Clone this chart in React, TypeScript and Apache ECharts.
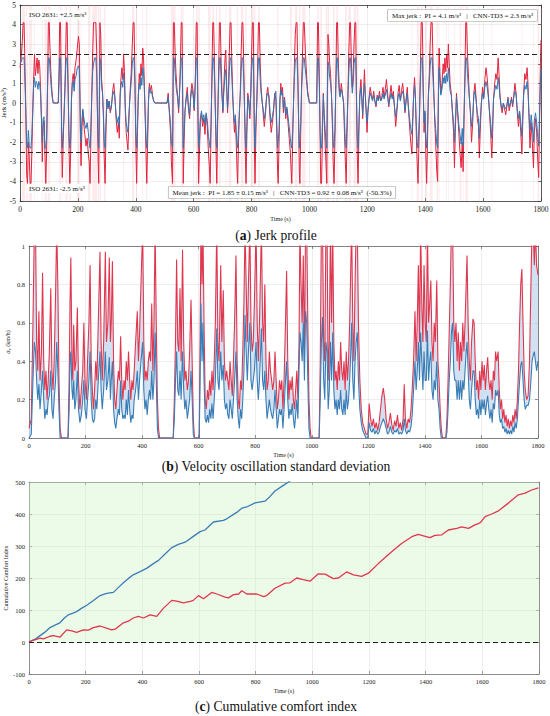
import React, { useEffect, useRef } from "react";
import * as echarts from "echarts";

const FONT = "'Liberation Serif', 'DejaVu Serif', serif";
const RED = "#e2233d";
const BLUE = "#3277b3";
const RED_B = "#e0374f";
const BLUE_B = "#3a7db6";

// ---------- (a) Jerk profile: [time s, jerk m/s^3] ----------
const jerkPI: number[][] = [
[0,1.8],[4,2.3],[8,3.2],[11,4.1],[14,4.1],[16,2.8],[19,0.5],[21,-1.5],[23,-3.7],[26,-4.1],
[29,-2.0],[32,-2.8],[35,-4.1],[38,-4.1],[41,-2.5],[44,-0.5],[47,1.2],[50,2.5],[53,1.4],[56,1.8],
[59,2.3],[62,1.5],[65,2.2],[68,1.9],[71,0.8],[74,-0.8],[77,-3.0],[80,-1.2],[83,-0.9],[86,-2.5],
[89,-4.1],[92,-2.5],[95,0.5],[98,4.1],[101,4.1],[103,3.0],[106,1.8],[109,0.9],[112,0.3],[115,0],
[132,0],[135,1.8],[137,4.1],[140,4.1],[142,1.5],[144,-2.0],[146,-3.8],[149,-2.2],[152,-0.6],[155,0.8],
[158,2.6],[160,4.1],[163,4.1],[166,1.2],[169,-2.0],[172,-4.1],[175,-2.6],[178,0.3],[181,1.2],[184,1.5],
[187,0.9],[190,1.8],[194,2.2],[198,2.8],[202,3.4],[205,3.0],[207,0.5],[209,-2.0],[211,-3.2],[214,-1.2],
[217,-0.4],[220,-1.0],[224,-1.6],[228,-2.2],[232,-1.8],[236,-2.6],[239,-3.0],[242,-4.1],[245,-1.8],[248,0.5],
[251,2.5],[254,4.1],[258,4.1],[262,4.1],[265,2.6],[267,0],[270,-3.0],[272,-4.1],[274,-0.5],[276,4.1],
[279,3.5],[282,1.2],[285,0.6],[288,-0.6],[291,-2.8],[294,-4.1],[297,-1.5],[300,0.2],[304,-0.3],[308,0.1],
[312,-0.5],[316,-0.2],[320,0.6],[324,1.0],[328,0.3],[332,-0.8],[336,-1.5],[340,-1.0],[343,-1.8],[346,0.5],
[349,1.3],[352,1.8],[355,1.2],[358,2.5],[361,1.6],[364,-0.5],[367,-1.5],[370,-2.0],[373,-2.4],[376,-1.0],
[380,0.5],[384,1.5],[388,3.0],[391,4.1],[394,4.1],[397,1.5],[400,-2.0],[403,-4.1],[406,-1.5],[409,0.5],
[412,1.5],[415,1.0],[418,2.0],[421,1.4],[424,2.8],[427,2.2],[430,0.8],[433,-1.0],[436,-3.0],[438,-4.1],
[441,-2.0],[444,0.2],[447,1.0],[450,0.6],[454,0.9],[458,0.4],[462,0.1],[466,0],[508,0],[512,0.5],
[516,-0.5],[520,-1.5],[523,-3.0],[527,-4.1],[530,4.1],[533,4.1],[536,2.5],[539,1.5],[542,0.8],[545,0.3],
[548,-0.5],[551,0.5],[554,2.0],[557,4.1],[560,4.1],[562,0.5],[564,-4.1],[567,-2.0],[570,-0.5],[574,0.3],
[578,0.8],[582,-0.3],[586,-0.8],[590,0.5],[594,1.0],[598,0.6],[602,-0.4],[606,1.5],[609,4.1],[612,4.1],
[614,0.5],[617,-4.1],[620,-2.5],[623,-1.0],[627,-0.5],[631,-1.2],[635,-0.8],[639,-1.6],[643,-0.6],[647,-1.2],
[651,-2.5],[654,-3.2],[657,-4.1],[660,-1.5],[663,1.5],[666,4.1],[669,4.1],[672,2.0],[675,-0.5],[678,-3.0],
[680,-4.1],[683,-1.0],[686,1.5],[689,4.1],[692,4.1],[695,2.0],[698,0.5],[701,-0.5],[704,0.8],[708,2.2],
[711,2.7],[714,1.0],[717,-0.5],[720,0.5],[723,2.5],[726,4.1],[729,4.1],[732,2.0],[735,0.5],[738,-0.8],
[741,-1.5],[744,-0.8],[747,-2.0],[750,-3.5],[752,-4.1],[755,-2.0],[758,-0.5],[761,0.6],[764,2.5],[767,4.1],
[770,4.1],[773,2.0],[776,-0.5],[779,-3.0],[781,-4.1],[784,-1.5],[787,0.5],[790,0.2],[794,-0.8],[797,0.5],
[800,2.5],[803,4.1],[806,4.1],[808,1.0],[810,-2.5],[812,-4.1],[815,-1.5],[818,0],[821,2.0],[824,4.1],
[827,4.1],[830,2.0],[833,0.8],[836,0.2],[840,-0.5],[844,-1.2],[848,-0.6],[852,0.4],[856,0.8],[860,0.2],
[864,-0.8],[868,-1.5],[872,-1.0],[876,-0.4],[880,0.5],[884,0.2],[887,-1.5],[890,-3.5],[892,-4.1],[895,-2.0],
[898,0],[901,1.0],[904,0.5],[907,0.8],[910,-0.5],[914,0.3],[918,-0.8],[922,-0.3],[926,-1.0],[930,-1.8],
[934,-2.5],[937,-3.5],[939,-4.1],[942,-2.0],[945,0],[948,2.0],[951,3.5],[954,4.1],[957,4.1],[960,1.5],
[963,-1.5],[965,-3.5],[967,-4.1],[970,-1.5],[973,1.0],[976,2.5],[979,4.1],[982,4.1],[985,3.0],[988,2.0],
[991,1.2],[994,0.6],[997,0.3],[1000,0],[1025,0],[1028,4.1],[1031,4.1],[1034,1.5],[1037,-2.0],[1039,-4.1],
[1042,-4.1],[1045,-1.5],[1048,0.5],[1051,-0.8],[1054,-2.0],[1057,-3.0],[1060,-4.1],[1062,0.5],[1064,3.5],[1067,3.0],
[1070,2.0],[1073,1.5],[1076,0.5],[1079,-1.0],[1082,-3.0],[1085,-4.1],[1088,-2.0],[1091,1.0],[1094,4.1],[1097,4.1],
[1100,2.0],[1103,0.8],[1106,0.4],[1110,1.0],[1114,0.5],[1118,0],[1121,-1.5],[1124,-3.0],[1127,-4.1],[1130,-1.5],
[1133,0.5],[1136,2.5],[1139,4.1],[1142,4.1],[1145,2.0],[1148,0.8],[1151,1.5],[1154,3.0],[1157,4.1],[1160,4.1],
[1162,1.0],[1165,-2.5],[1168,-4.1],[1171,-1.5],[1174,0.5],[1178,1.2],[1181,0.3],[1184,-0.8],[1187,0.5],[1190,1.7],
[1193,0.5],[1196,-0.5],[1199,-1.5],[1202,-0.5],[1206,0.3],[1210,0.8],[1214,0.4],[1218,0.2],[1222,0.6],[1226,0.1],
[1230,-0.2],[1234,0.4],[1238,0.2],[1242,0.6],[1246,0.1],[1250,0.3],[1254,0.8],[1258,0.3],[1262,0.7],[1266,1.2],
[1270,0.5],[1274,-0.2],[1278,0.4],[1282,0.9],[1286,0.3],[1290,0.6],[1294,-0.3],[1298,-1.2],[1302,-0.5],[1306,0.5],
[1310,0.9],[1314,0.2],[1318,0.6],[1322,1.0],[1326,0.4],[1330,-0.5],[1334,0.2],[1338,0.8],[1342,-0.3],[1346,-1.2],
[1350,-2.0],[1354,-2.6],[1357,-1.0],[1360,0.5],[1363,1.3],[1366,0.4],[1369,-1.5],[1372,-3.0],[1375,-4.1],[1377,-4.1],
[1380,-1.0],[1383,1.5],[1386,4.1],[1390,4.1],[1393,1.0],[1396,-1.5],[1399,-0.5],[1402,-2.5],[1405,-4.1],[1408,-2.0],
[1411,0.5],[1414,1.5],[1417,3.0],[1420,4.1],[1424,4.1],[1427,2.0],[1430,0.5],[1433,-1.0],[1436,-2.0],[1440,-3.5],
[1443,-4.0],[1446,1.0],[1448,2.8],[1451,1.5],[1454,0.5],[1458,1.0],[1462,2.0],[1465,1.5],[1468,2.3],[1471,1.6],
[1474,2.5],[1477,1.8],[1480,3.0],[1483,2.0],[1486,1.0],[1490,0.5],[1494,-0.5],[1498,-1.5],[1501,-3.3],[1504,-1.5],
[1508,0.5],[1512,-0.5],[1516,-1.5],[1520,-2.5],[1524,-3.3],[1528,-2.0],[1531,-3.5],[1534,-1.0],[1537,1.5],[1540,4.1],
[1543,4.1],[1546,2.5],[1549,1.5],[1552,0.5],[1556,-0.5],[1560,-2.0],[1564,-1.0],[1568,0.5],[1572,1.0],[1576,0.2],
[1580,-0.8],[1584,-1.2],[1587,-2.8],[1590,-1.5],[1594,0],[1598,0.8],[1602,0.3],[1606,1.2],[1610,1.8],[1614,1.3],
[1618,0.5],[1622,-0.5],[1626,-1.5],[1630,-2.8],[1633,-1.5],[1636,0.2],[1640,1.0],[1644,1.5],[1648,1.2],[1652,2.3],
[1655,1.5],[1658,0.5],[1662,-0.2],[1666,-0.5],[1670,0],[1674,-0.3],[1678,-0.6],[1682,-0.2],[1686,0.3],[1690,-0.4],
[1694,-0.1],[1698,0.3],[1702,-0.2],[1706,0.4],[1710,1.0],[1714,0.5],[1718,-0.5],[1722,-1.2],[1726,-0.5],[1730,-1.5],
[1734,-2.6],[1737,-1.0],[1740,0.5],[1744,1.5],[1748,1.2],[1752,1.8],[1755,1.0],[1758,-0.5],[1762,-2.3],[1766,-1.0],
[1770,-2.0],[1774,-3.3],[1777,-1.5],[1781,-0.8],[1785,-1.5],[1789,-3.0],[1792,-3.8],[1795,-1.0],[1798,2.0],[1800,3.2],
];

const jerkTD3: number[][] = [
[0,2.0],[4,2.1],[8,2.3],[11,2.3],[14,2.3],[16,1.6],[19,0.2],[21,-0.9],[23,-2.1],[26,-2.3],
[29,-1.4],[32,-2.2],[35,-2.3],[38,-2.3],[41,-1.6],[44,-0.4],[47,0.9],[50,1.3],[53,0.8],[56,1.1],
[59,1.0],[62,0.7],[65,1.1],[68,0.9],[71,0.5],[74,-0.7],[77,-2.0],[80,-0.8],[83,-0.7],[86,-2.3],
[89,-2.3],[92,-1.8],[95,0.8],[98,2.3],[101,2.3],[103,1.9],[106,1.2],[109,0.6],[112,0.2],[115,0],
[132,0],[135,1.0],[137,2.3],[140,2.3],[142,0.8],[144,-1.4],[146,-2.3],[149,-1.5],[152,-0.8],[155,0.5],
[158,1.8],[160,2.3],[163,2.3],[166,0.9],[169,-1.4],[172,-2.3],[175,-1.8],[178,0.2],[181,1.0],[184,1.1],
[187,0.6],[190,1.2],[194,1.4],[198,1.8],[202,1.9],[205,1.7],[207,0.3],[209,-1.5],[211,-2.0],[214,-0.9],
[217,-0.3],[220,-0.7],[224,-1.1],[228,-1.3],[232,-1.0],[236,-1.5],[239,-2.0],[242,-2.3],[245,-1.2],[248,0.4],
[251,1.6],[254,2.0],[258,2.3],[262,2.3],[265,1.5],[267,0],[270,-2.0],[272,-2.3],[274,-0.2],[276,2.3],
[279,2.0],[282,0.8],[285,0.5],[288,-0.5],[291,-2.0],[294,-2.3],[297,-1.0],[300,0.2],[304,-0.2],[308,0.1],
[312,-0.4],[316,-0.1],[320,0.4],[324,0.6],[328,0.2],[332,-0.6],[336,-1.0],[340,-0.7],[343,-1.2],[346,0.3],
[349,0.9],[352,1.1],[355,0.8],[358,1.5],[361,1.0],[364,-0.3],[367,-1.0],[370,-1.3],[373,-1.5],[376,-0.6],
[380,0.3],[384,1.0],[388,2.0],[391,2.3],[394,2.3],[397,1.0],[400,-1.5],[403,-2.3],[406,-1.0],[409,0.4],
[412,1.0],[415,0.7],[418,1.3],[421,0.9],[424,1.8],[427,1.5],[430,0.5],[433,-0.8],[436,-2.0],[438,-2.3],
[441,-1.4],[444,0.1],[447,0.8],[450,0.5],[454,0.6],[458,0.3],[462,0.1],[466,0],[508,0],[512,0.3],
[516,-0.4],[520,-1.0],[523,-2.0],[527,-2.3],[530,2.3],[533,2.3],[536,1.5],[539,0.9],[542,0.5],[545,0.2],
[548,-0.3],[551,0.4],[554,1.4],[557,2.3],[560,2.3],[562,0.3],[564,-2.3],[567,-1.5],[570,-0.4],[574,0.2],
[578,0.5],[582,-0.2],[586,-0.6],[590,0.3],[594,0.7],[598,0.4],[602,-0.3],[606,1.0],[609,2.3],[612,2.3],
[614,0.3],[617,-2.3],[620,-1.8],[623,-0.8],[627,-0.4],[631,-0.9],[635,-0.6],[639,-1.1],[643,-0.5],[647,-0.9],
[651,-1.7],[654,-2.0],[657,-2.3],[660,-1.0],[663,1.0],[666,2.3],[669,2.3],[672,1.3],[675,-0.4],[678,-2.0],
[680,-2.3],[683,-0.7],[686,1.0],[689,2.3],[692,2.3],[695,1.2],[698,0.3],[701,-0.4],[704,0.5],[708,1.4],
[711,1.7],[714,0.7],[717,-0.3],[720,0.4],[723,1.6],[726,2.3],[729,2.3],[732,1.3],[735,0.3],[738,-0.5],
[741,-1.0],[744,-0.6],[747,-1.4],[750,-2.1],[752,-2.3],[755,-1.4],[758,-0.4],[761,0.4],[764,1.6],[767,2.3],
[770,2.3],[773,1.2],[776,-0.4],[779,-2.0],[781,-2.3],[784,-1.0],[787,0.3],[790,0.1],[794,-0.6],[797,0.4],
[800,1.6],[803,2.3],[806,2.3],[808,0.6],[810,-1.7],[812,-2.3],[815,-1.0],[818,0],[821,1.3],[824,2.3],
[827,2.3],[830,1.2],[833,0.5],[836,0.1],[840,-0.3],[844,-0.8],[848,-0.4],[852,0.3],[856,0.5],[860,0.4],
[864,-0.5],[868,-1.0],[872,-0.7],[876,-0.3],[880,0.4],[884,0.6],[887,-1.0],[890,-2.3],[892,-2.3],[895,-1.4],
[898,0.2],[901,0.7],[904,0.4],[907,0.5],[910,-0.3],[914,0.2],[918,-0.6],[922,-0.2],[926,-0.7],[930,-1.2],
[934,-1.8],[937,-2.2],[939,-2.3],[942,-1.4],[945,0],[948,1.3],[951,2.1],[954,2.3],[957,2.3],[960,1.0],
[963,-1.2],[965,-2.3],[967,-2.3],[970,-1.0],[973,0.8],[976,1.6],[979,2.3],[982,2.3],[985,1.8],[988,1.4],
[991,0.9],[994,0.4],[997,0.2],[1000,0],[1025,0],[1028,2.3],[1031,2.3],[1034,1.0],[1037,-1.5],[1039,-2.3],
[1042,-2.3],[1045,-1.0],[1048,0.4],[1051,-0.6],[1054,-1.3],[1057,-2.0],[1060,-2.3],[1062,0.4],[1064,2.1],[1067,1.9],
[1070,1.3],[1073,1.0],[1076,0.4],[1079,-0.7],[1082,-2.0],[1085,-2.3],[1088,-1.4],[1091,0.7],[1094,2.3],[1097,2.3],
[1100,1.3],[1103,0.5],[1106,0.3],[1110,0.7],[1114,0.4],[1118,0],[1121,-1.0],[1124,-2.0],[1127,-2.3],[1130,-1.0],
[1133,0.4],[1136,1.6],[1139,2.3],[1142,2.3],[1145,1.3],[1148,0.5],[1151,1.0],[1154,2.0],[1157,2.3],[1160,2.3],
[1162,0.6],[1165,-1.7],[1168,-2.3],[1171,-1.0],[1174,0.3],[1178,0.8],[1181,0.2],[1184,-0.6],[1187,0.4],[1190,1.0],
[1193,0.3],[1196,-0.4],[1199,-1.0],[1202,-0.4],[1206,0.2],[1210,0.5],[1214,0.3],[1218,0.1],[1222,0.4],[1226,0.1],
[1230,-0.1],[1234,0.3],[1238,0.1],[1242,0.4],[1246,0.1],[1250,0.2],[1254,0.5],[1258,0.2],[1262,0.4],[1266,0.7],
[1270,0.3],[1274,-0.1],[1278,0.2],[1282,0.5],[1286,0.2],[1290,0.4],[1294,-0.2],[1298,-0.7],[1302,-0.3],[1306,0.3],
[1310,0.5],[1314,0.1],[1318,0.4],[1322,0.6],[1326,0.3],[1330,-0.4],[1334,0.1],[1338,0.5],[1342,-0.2],[1346,-0.8],
[1350,-1.3],[1354,-1.6],[1357,-0.7],[1360,0.3],[1363,0.9],[1366,0.3],[1369,-1.0],[1372,-2.0],[1375,-2.3],[1377,-2.3],
[1380,-0.6],[1383,1.0],[1386,2.3],[1390,2.3],[1393,0.6],[1396,-1.0],[1399,-0.4],[1402,-1.8],[1405,-2.3],[1408,-1.3],
[1411,0.4],[1414,1.0],[1417,1.9],[1420,2.3],[1424,2.3],[1427,1.2],[1430,0.3],[1433,-0.7],[1436,-1.3],[1440,-2.1],
[1443,-2.3],[1446,0.7],[1448,1.8],[1451,1.0],[1454,0.4],[1458,0.7],[1462,1.3],[1465,1.0],[1468,1.4],[1471,1.0],
[1474,1.5],[1477,1.1],[1480,1.8],[1483,1.2],[1486,0.6],[1490,0.4],[1494,-0.4],[1498,-1.0],[1501,-2.0],[1504,-1.0],
[1508,0.3],[1512,-0.4],[1516,-1.1],[1520,-1.6],[1524,-2.1],[1528,-1.3],[1531,-2.2],[1534,-0.6],[1537,1.0],[1540,2.3],
[1543,2.3],[1546,1.5],[1549,0.9],[1552,0.3],[1556,-0.4],[1560,-1.2],[1564,-0.7],[1568,0.4],[1572,0.6],[1576,0.1],
[1580,-0.5],[1584,-0.8],[1587,-1.8],[1590,-0.9],[1594,0],[1598,0.5],[1602,0.2],[1606,0.8],[1610,1.1],[1614,0.8],
[1618,0.3],[1622,-0.4],[1626,-1.0],[1630,-1.8],[1633,-0.9],[1636,0.2],[1640,0.6],[1644,0.9],[1648,0.7],[1652,1.3],
[1655,0.9],[1658,0.3],[1662,-0.1],[1666,-0.3],[1670,0],[1674,-0.2],[1678,-0.3],[1682,-0.1],[1686,0.2],[1690,-0.2],
[1694,0],[1698,0.2],[1702,-0.1],[1706,0.3],[1710,0.6],[1714,0.4],[1718,-0.3],[1722,-0.8],[1726,-0.4],[1730,-1.0],
[1734,-1.7],[1737,-0.6],[1740,0.4],[1744,0.9],[1748,0.7],[1752,1.1],[1755,0.6],[1758,-0.4],[1762,-1.4],[1766,-0.6],
[1770,-1.2],[1774,-2.0],[1777,-0.9],[1781,-0.5],[1785,-1.0],[1789,-1.8],[1792,-2.2],[1795,-0.6],[1798,1.2],[1800,1.7],
];

const isoLimit = 2.5;

// ---------- (b) Velocity oscillation std (km/h) ----------
const sigmaTime: number[] = [
0,8,14,19,23,27,31,35,39,44,
48,52,56,60,64,68,72,77,81,85,
89,94,98,102,106,110,115,138,142,145,
148,152,155,158,162,166,171,175,180,185,
190,194,198,203,207,212,216,220,224,228,
232,236,240,245,251,255,259,264,270,274,
279,284,288,291,295,299,303,307,311,316,
320,324,328,332,336,340,344,348,352,356,
360,364,368,372,377,383,387,391,396,402,
406,410,414,418,422,426,430,434,438,442,
446,450,454,458,462,510,514,518,522,526,
530,534,538,543,547,551,555,560,564,568,
573,577,581,585,602,605,608,612,615,619,
623,627,631,635,639,643,647,651,655,659,
664,668,672,678,682,687,691,695,699,703,
707,711,715,719,723,727,732,736,740,744,
748,752,756,760,764,768,772,776,781,785,
789,793,797,803,807,811,815,822,826,830,
834,838,842,846,850,854,858,862,866,870,
874,878,882,886,890,894,898,902,907,911,
915,919,923,927,931,935,939,943,947,951,
955,958,962,966,970,974,978,982,986,990,
994,998,1026,1030,1034,1038,1042,1046,1050,1054,
1058,1062,1066,1070,1074,1078,1082,1086,1090,1094,
1098,1102,1106,1110,1114,1118,1122,1126,1130,1134,
1138,1141,1145,1149,1153,1157,1161,1165,1170,1175,
1180,1186,1192,1198,1203,1208,1213,1218,1223,1228,
1233,1238,1243,1248,1253,1258,1263,1268,1273,1278,
1283,1288,1293,1298,1303,1308,1313,1318,1323,1327,
1331,1336,1341,1346,1351,1355,1360,1365,1369,1373,
1377,1381,1385,1389,1393,1397,1401,1405,1409,1413,
1417,1421,1425,1429,1433,1437,1442,1446,1450,1454,
1458,1462,1474,1478,1482,1486,1490,1494,1498,1502,
1506,1510,1514,1518,1522,1526,1530,1534,1538,1542,
1546,1549,1553,1557,1561,1565,1570,1574,1578,1582,
1586,1590,1594,1598,1602,1606,1610,1614,1618,1622,
1626,1630,1634,1638,1642,1646,1650,1654,1659,1663,
1667,1671,1675,1679,1683,1687,1691,1695,1699,1703,
1707,1711,1715,1719,1723,1727,1731,1735,1739,1743,
1747,1751,1755,1760,1765,1770,1775,1779,1783,1787,
1791,1795,1800,
];

const sigmaPI: number[] = [
.05,.1,.6,1.1,1.1,.5,.35,.66,.3,.45,
.86,.4,.25,.35,.2,.3,.45,.78,.35,.25,
.4,.75,1.1,.8,.3,.05,0,0,.3,.7,
.94,.4,.3,.59,.35,.4,.68,.3,.15,.25,
.35,.6,.3,.2,.4,.6,.9,.4,.25,.15,
.25,.4,.3,.6,.97,.5,.3,.5,.97,.5,
.6,.94,.5,.6,.92,.4,.2,.15,.25,.35,
.3,.53,.3,.2,.3,.25,.4,.3,.45,.3,
.2,.3,.25,.35,.5,.66,.4,.55,.8,1.1,
.5,.3,.35,.3,.4,.45,.4,.7,.35,.6,
1.1,.6,.2,.05,0,0,.2,.5,.93,.5,
.45,.78,.4,.98,.5,.3,.35,.25,.3,.45,
.72,.4,.1,0,0,.5,1.1,.8,1.1,.6,
.2,.15,.25,.2,.3,.22,.35,.25,.4,.6,
1.1,.5,.4,.9,.5,.77,.4,.3,.35,.3,
.25,.4,.3,.22,.4,.6,.95,.4,.2,.15,
.3,.25,.45,.7,1.1,.8,.5,.8,1.1,.6,
.45,.5,.7,1.1,.6,.4,.6,1.1,.6,.5,
.8,.4,.25,.3,.45,.35,.3,.25,.3,.45,
.3,.15,.2,.3,.25,.3,.15,.3,.6,.87,
.4,.2,.3,.25,.32,.2,.15,.25,.35,.2,
.5,1.1,.8,.6,.95,.4,1.1,1.1,.6,.2,
.05,0,0,.4,1.1,1.1,.5,.4,1.1,1.1,
.3,.5,1.1,.6,1.1,.5,.3,.35,.25,.4,
.3,.5,.35,.3,.4,.25,.45,.3,.4,.6,
.9,1.1,.6,.4,.8,1.1,1.1,.6,.3,.15,
.08,.05,.02,.02,.18,.1,.06,.1,.05,.08,
.04,.08,.15,.22,.26,.2,.1,.05,.08,.13,
.07,.04,.09,.06,.12,.05,.08,.04,.1,.28,
.1,.05,.1,.08,.15,.25,.4,.66,.4,.6,
.9,.5,1.1,.7,.5,.9,.6,.5,1.1,.6,
.7,.82,.5,.4,.6,.5,.82,.4,.3,.15,
.05,0,0,.1,.3,.55,.8,1.1,1.1,.6,
.5,.6,.4,.55,.35,.5,.4,.6,.45,.6,
.8,.95,.6,.4,.3,.5,.62,.6,.4,.25,
.3,.2,.35,.25,.4,.3,.38,.25,.35,.42,
.3,.25,.3,.2,.35,.3,.45,.4,.45,.25,
.15,.2,.1,.15,.08,.12,.06,.1,.05,.09,
.06,.12,.08,.15,.1,.2,.35,.6,.8,.88,
.6,.35,.25,.2,.22,.4,.8,1.1,1.1,.9,
1.1,.9,.85,
];

const sigmaTD3: number[] = [
0,.02,.3,.5,.45,.3,.2,.28,.15,.25,
.35,.2,.1,.15,.12,.2,.22,.35,.15,.1,
.2,.3,.5,.35,.15,0,0,0,.15,.4,
.45,.25,.2,.3,.15,.2,.35,.15,.08,.12,
.2,.3,.15,.1,.2,.3,.45,.2,.1,.08,
.1,.2,.15,.3,.45,.25,.15,.25,.45,.25,
.3,.42,.2,.3,.4,.15,.08,.05,.1,.15,
.12,.3,.15,.1,.12,.1,.2,.12,.25,.15,
.08,.12,.1,.2,.25,.35,.2,.3,.4,.5,
.25,.15,.2,.12,.2,.25,.2,.35,.2,.3,
.55,.3,.05,0,0,0,.1,.3,.45,.25,
.22,.35,.2,.45,.25,.15,.2,.1,.15,.2,
.35,.2,.02,0,0,.3,.7,.4,.6,.3,
.1,.08,.12,.08,.15,.1,.18,.1,.2,.3,
.57,.3,.25,.45,.3,.38,.2,.15,.18,.12,
.1,.2,.15,.1,.2,.3,.45,.2,.1,.05,
.15,.1,.2,.35,.64,.45,.3,.45,.6,.3,
.25,.3,.35,.5,.3,.2,.3,.57,.3,.25,
.35,.2,.1,.15,.2,.15,.12,.1,.15,.25,
.15,.05,.1,.15,.12,.15,.05,.15,.3,.4,
.2,.1,.15,.12,.18,.1,.05,.12,.2,.1,
.35,.55,.5,.4,.6,.3,.66,.6,.3,.05,
0,0,0,.2,.5,.63,.3,.2,.5,.45,
.15,.25,.5,.3,.55,.25,.15,.2,.12,.2,
.15,.25,.15,.12,.2,.12,.25,.15,.2,.3,
.45,.6,.3,.2,.4,.5,.55,.3,.15,.08,
.04,.02,0,0,.08,.04,.03,.05,.02,.04,
.02,.03,.06,.08,.1,.08,.05,.02,.03,.06,
.03,.02,.04,.03,.05,.02,.03,.02,.04,.1,
.04,.02,.04,.03,.06,.12,.25,.4,.25,.35,
.5,.3,.55,.4,.25,.45,.3,.3,.56,.3,
.4,.45,.25,.2,.3,.25,.4,.2,.15,.05,
0,0,0,.03,.15,.3,.4,.55,.6,.35,
.3,.3,.2,.3,.2,.3,.2,.3,.25,.35,
.45,.5,.35,.2,.15,.25,.35,.35,.2,.12,
.15,.1,.2,.12,.2,.15,.2,.12,.18,.22,
.15,.1,.15,.08,.18,.15,.25,.22,.25,.12,
.08,.1,.05,.06,.03,.05,.02,.04,.02,.04,
.02,.06,.03,.08,.05,.1,.2,.3,.38,.4,
.3,.2,.15,.17,.17,.2,.3,.4,.43,.45,
.4,.35,.4,
];

// ---------- (c) Cumulative comfort index ----------
const comfortTD3: number[][] = [
[0,0],[20,8],[39,20],[55,30],[74,45],[90,52],[109,60],[125,75],[139,85],[155,90],
[168,95],[185,105],[204,115],[225,128],[251,145],[274,152],[298,155],[315,170],[333,185],[350,198],
[368,210],[392,220],[415,230],[439,245],[457,255],[480,275],[504,295],[527,305],[551,312],[580,330],
[604,345],[621,350],[651,375],[686,380],[698,385],[733,405],[751,418],[768,422],[798,435],[833,440],
[851,455],[868,472],[895,488],[916,500],[940,515],
];

const comfortPI: number[][] = [
[0,0],[13,5],[26,8],[39,12],[51,10],[74,18],[86,20],[109,15],[133,38],[151,35],
[168,30],[192,38],[210,37],[227,45],[251,50],[268,45],[292,38],[304,40],[333,60],[351,65],
[368,75],[386,80],[404,75],[427,85],[451,80],[474,105],[504,130],[521,128],[545,122],[569,127],
[580,130],[598,145],[616,135],[645,155],[663,150],[692,140],[704,138],[722,148],[740,150],[751,160],
[769,150],[804,150],[828,142],[839,145],[868,168],[904,184],[921,185],[945,200],[968,195],[992,190],
[1021,213],[1045,212],[1074,198],[1092,200],[1121,219],[1145,210],[1174,205],[1198,215],[1233,245],[1280,282],
[1315,308],[1351,329],[1374,336],[1392,332],[1415,326],[1433,333],[1457,335],[1480,350],[1510,355],[1527,360],
[1551,355],[1574,366],[1592,372],[1610,392],[1633,400],[1657,410],[1692,434],[1727,460],[1751,465],[1774,475],
[1798,482],
];

function exceedBands(points: number[][], thr: number) {
  const out: any[] = [];
  let start: number | null = null;
  let last = 0;
  for (const [t, v] of points) {
    if (Math.abs(v) >= thr) {
      if (start === null) start = t;
      last = t;
    } else if (start !== null) {
      out.push([{ xAxis: start - 1.2 }, { xAxis: last + 1.2 }]);
      start = null;
    }
  }
  if (start !== null) out.push([{ xAxis: start - 1.2 }, { xAxis: last + 1.2 }]);
  return out;
}

const plainNum = (v: number) => String(v);

function xPair(gridIndex: number, frame: string, fs: number, gap: number) {
  return [
    {
      type: "value", gridIndex, min: 0, max: 1800, interval: 200, position: "bottom",
      axisLine: { show: true, onZero: false, lineStyle: { color: frame, width: 0.8 } },
      axisTick: { show: true, inside: true, length: 3, lineStyle: { color: frame, width: 0.7 } },
      axisLabel: { fontSize: fs, color: "#222", margin: 4, fontFamily: FONT, formatter: plainNum },
      splitLine: { show: true, lineStyle: { color: "#e2e2e2", width: 0.6 } },
      name: "Time (s)", nameLocation: "middle", nameGap: gap, nameMoveOverlap: false,
      nameTextStyle: { fontSize: 6, fontFamily: FONT, color: "#222" },
    },
    {
      type: "value", gridIndex, min: 0, max: 1800, interval: 200, position: "top",
      axisLine: { show: true, onZero: false, lineStyle: { color: frame, width: 0.8 } },
      axisTick: { show: true, inside: true, length: 3, lineStyle: { color: frame, width: 0.7 } },
      axisLabel: { show: false }, splitLine: { show: false },
    },
  ];
}

function yPair(gridIndex: number, frame: string, fs: number, min: number, max: number, interval: number, name: string, gap: number, nameStyle: any) {
  return [
    {
      type: "value", gridIndex, min, max, interval, position: "left",
      axisLine: { show: true, onZero: false, lineStyle: { color: frame, width: 0.8 } },
      axisTick: { show: true, inside: true, length: 3, lineStyle: { color: frame, width: 0.7 } },
      axisLabel: { fontSize: fs, color: "#222", margin: 4, fontFamily: FONT, formatter: plainNum },
      splitLine: { show: true, lineStyle: { color: "#e2e2e2", width: 0.6 } },
      name, nameLocation: "middle", nameGap: gap, nameMoveOverlap: false, nameTextStyle: nameStyle,
    },
    {
      type: "value", gridIndex, min, max, interval, position: "right",
      axisLine: { show: true, onZero: false, lineStyle: { color: frame, width: 0.8 } },
      axisTick: { show: true, inside: true, length: 3, lineStyle: { color: frame, width: 0.7 } },
      axisLabel: { show: false }, splitLine: { show: false },
    },
  ];
}

export default function App() {
  const ref = useRef<HTMLDivElement>(null);

  useEffect(() => {
    if (!ref.current) return;
    const chart = echarts.init(ref.current, null, { renderer: "svg" });

    const sigmaPIPts = sigmaTime.map((t, i) => [t, sigmaPI[i]]);
    const sigmaTD3Pts = sigmaTime.map((t, i) => [t, sigmaTD3[i]]);

    const nameA = { fontSize: 7, fontFamily: FONT, color: "#222" };
    const nameB = {
      fontSize: 6, fontFamily: FONT, color: "#222",
      rich: {
        s: { fontSize: 6.5, fontFamily: FONT, fontStyle: "italic", color: "#222" },
        sub: { fontSize: 4.5, fontFamily: FONT, color: "#222", padding: [4, 0, 0, 0] },
        n: { fontSize: 6, fontFamily: FONT, color: "#222" },
      },
    };
    const nameC = { fontSize: 6, fontFamily: FONT, color: "#222" };

    const CAP = 13.6;
    const caption = (letter: string, rest: string, y: number) => ({
      type: "text", z: 100, x: 276, y,
      style: {
        text: `{r|(}{b|${letter}}{r|) ${rest}}`, align: "center", verticalAlign: "middle",
        fontSize: CAP, fontFamily: FONT, fill: "#111",
        rich: {
          b: { fontWeight: "bold", fontSize: CAP, fontFamily: FONT, fill: "#111" },
          r: { fontSize: CAP, fontFamily: FONT, fill: "#111" },
        },
      },
    });

    const option: any = {
      animation: false,
      backgroundColor: "#ffffff",
      grid: [
        { left: 20, top: 5, width: 521, height: 196, outerBoundsMode: "none" },
        { left: 29, top: 246, width: 509, height: 192, outerBoundsMode: "none" },
        { left: 29, top: 482, width: 510, height: 192, outerBoundsMode: "none" },
      ],
      xAxis: [
        ...xPair(0, "#333", 7.5, 15),
        ...xPair(1, "#666", 6.5, 14),
        ...xPair(2, "#777", 6.5, 14),
      ],
      yAxis: [
        ...yPair(0, "#333", 7.5, -5, 5, 1, "Jerk (m/s³)", 13, nameA),
        ...yPair(1, "#666", 6.5, 0, 1, 0.2, "{s|σ}{sub|v}{n| (km/h)}", 17, nameB),
        ...yPair(2, "#777", 6.5, -100, 500, 100, "Cumulative Comfort Index", 20, nameC),
      ],
      series: [
        // (a) exceedance bands
        {
          type: "line", xAxisIndex: 0, yAxisIndex: 0, data: [[0, 0]], symbol: "none",
          lineStyle: { opacity: 0 }, silent: true, z: 1,
          markArea: { silent: true, itemStyle: { color: "rgba(245,150,160,0.2)" }, data: exceedBands(jerkPI, isoLimit) },
        },
        {
          name: "PI", type: "line", xAxisIndex: 0, yAxisIndex: 0, data: jerkPI, symbol: "none",
          lineStyle: { color: RED, width: 1 }, z: 2,
        },
        {
          name: "CNN-TD3", type: "line", xAxisIndex: 0, yAxisIndex: 0, data: jerkTD3, symbol: "none",
          lineStyle: { color: BLUE, width: 1 }, z: 3,
        },
        {
          type: "line", xAxisIndex: 0, yAxisIndex: 0, data: [[0, 0]], symbol: "none",
          lineStyle: { opacity: 0 }, silent: true, z: 4,
          markLine: {
            silent: true, symbol: "none", label: { show: false },
            lineStyle: { color: "#222", type: [5, 3], width: 1.1 },
            data: [{ yAxis: isoLimit }, { yAxis: -isoLimit }],
          },
        },
        // (b) fill between the two std curves
        {
          type: "custom", xAxisIndex: 2, yAxisIndex: 2, data: [[0, 0]], clip: true, silent: true, z: 1,
          renderItem: (_params: any, api: any) => {
            const upper = sigmaTime.map((t, i) => api.coord([t, sigmaPI[i]]));
            const lower = sigmaTime.map((t, i) => api.coord([t, sigmaTD3[i]])).reverse();
            return {
              type: "polygon",
              shape: { points: upper.concat(lower) },
              style: { fill: "#c9dcee", opacity: 0.85 },
            };
          },
        },
        {
          type: "line", xAxisIndex: 2, yAxisIndex: 2, data: sigmaPIPts, symbol: "none",
          lineStyle: { color: RED_B, width: 1.1 }, z: 2,
        },
        {
          type: "line", xAxisIndex: 2, yAxisIndex: 2, data: sigmaTD3Pts, symbol: "none",
          lineStyle: { color: BLUE_B, width: 1.1 }, z: 3,
        },
        // (c) comfort
        {
          type: "line", xAxisIndex: 4, yAxisIndex: 4, data: [[0, 0]], symbol: "none",
          lineStyle: { opacity: 0 }, silent: true, z: 1,
          markArea: { silent: true, itemStyle: { color: "rgba(200,240,188,0.35)" }, data: [[{ yAxis: 0 }, { yAxis: 500 }]] },
          markLine: {
            silent: true, symbol: "none", label: { show: false },
            lineStyle: { color: "#222", type: [5, 3], width: 1 },
            data: [{ yAxis: 0 }],
          },
        },
        {
          type: "line", xAxisIndex: 4, yAxisIndex: 4, data: comfortTD3, symbol: "none",
          lineStyle: { color: BLUE_B, width: 1.3 }, z: 3,
        },
        {
          type: "line", xAxisIndex: 4, yAxisIndex: 4, data: comfortPI, symbol: "none",
          lineStyle: { color: RED_B, width: 1.3 }, z: 3,
        },
      ],
      graphic: [
        {
          type: "text", z: 100, x: 27, y: 15,
          style: { text: "ISO 2631: +2.5 m/s³", fontSize: 7, fontFamily: FONT, fill: "#111", verticalAlign: "middle", backgroundColor: "#fff", padding: [1, 2] },
        },
        {
          type: "text", z: 100, x: 27, y: 188.5,
          style: { text: "ISO 2631: -2.5 m/s³", fontSize: 7, fontFamily: FONT, fill: "#111", verticalAlign: "middle", backgroundColor: "#fff", padding: [1, 2] },
        },
        {
          type: "text", z: 100, x: 537, y: 15.5,
          style: {
            text: "Max jerk :  PI = 4.1 m/s³   |   CNN-TD3 = 2.3 m/s³", fontSize: 7, fontFamily: FONT, fill: "#111",
            align: "right", verticalAlign: "middle", backgroundColor: "#fff", borderColor: "#999", borderWidth: 0.6, padding: [2, 4],
          },
        },
        {
          type: "text", z: 100, x: 282, y: 192.5,
          style: {
            text: "Mean jerk :  PI = 1.85 ± 0.15 m/s³   |   CNN-TD3 = 0.92 ± 0.08 m/s³  (-50.3%)", fontSize: 7, fontFamily: FONT, fill: "#111",
            align: "center", verticalAlign: "middle", backgroundColor: "#fff", borderColor: "#999", borderWidth: 0.6, padding: [2, 4],
          },
        },
        caption("a", "Jerk profile", 235),
        caption("b", "Velocity oscillation standard deviation", 466.5),
        caption("c", "Cumulative comfort index", 706.5),
      ],
    };

    chart.setOption(option);
    return () => chart.dispose();
  }, []);

  return (
    <div
      ref={ref}
      style={{ position: "absolute", left: 0, top: 0, width: 550, height: 716, background: "#fff" }}
    />
  );
}
